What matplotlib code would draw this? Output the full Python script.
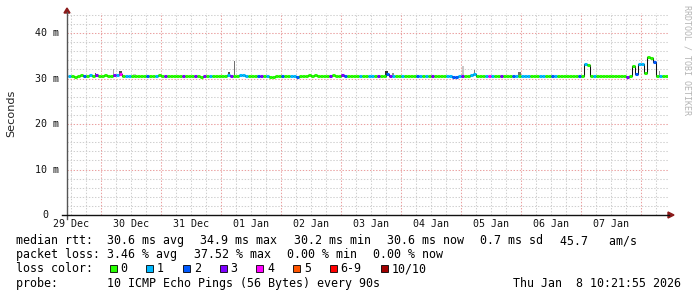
import numpy as np
import matplotlib
matplotlib.use("Agg")
from matplotlib import pyplot as plt
from matplotlib.lines import Line2D
from matplotlib.patches import Polygon, Rectangle

# time axis is in days since 29 Dec 00:00
day_labels = ["29 Dec", "30 Dec", "31 Dec", "01 Jan", "02 Jan",
              "03 Jan", "04 Jan", "05 Jan", "06 Jan", "07 Jan"]
t_start = 0.45
t_step = 0.05

# median rtt per step (ms)
median = [
    30.6, 30.5, 30.3, 30.6, 30.7, 30.6, 30.6, 30.7, 30.6, 30.8, 30.6, 30.6, 30.7, 30.6, 30.6, 30.7, 30.8, 30.9, 30.5, 30.5,
    30.5, 30.6, 30.6, 30.6, 30.5, 30.6, 30.6, 30.5, 30.6, 30.6, 30.7, 30.6, 30.6, 30.5, 30.6, 30.6, 30.5, 30.6, 30.6, 30.6,
    30.5, 30.6, 30.6, 30.6, 30.4, 30.6, 30.5, 30.6, 30.6, 30.6, 30.5, 30.6, 30.6, 30.7, 30.6, 30.6, 30.6, 30.7, 30.7, 30.6,
    30.6, 30.6, 30.5, 30.6, 30.6, 30.6, 30.5, 30.4, 30.4, 30.5, 30.5, 30.6, 30.6, 30.6, 30.5, 30.5, 30.4, 30.5, 30.5, 30.6,
    30.7, 30.6, 30.7, 30.6, 30.6, 30.6, 30.6, 30.6, 30.7, 30.6, 30.6, 30.7, 30.6, 30.6, 30.6, 30.6, 30.6, 30.5, 30.5, 30.6,
    30.5, 30.5, 30.6, 30.6, 30.6, 30.6, 30.9, 30.5, 30.5, 30.6, 30.6, 30.6, 30.6, 30.6, 30.5, 30.6, 30.5, 30.5, 30.6, 30.6,
    30.6, 30.6, 30.6, 30.6, 30.6, 30.6, 30.5, 30.5, 30.4, 30.4, 30.5, 30.5, 30.6, 30.6, 30.7, 30.9, 30.6, 30.6, 30.6, 30.5,
    30.5, 30.6, 30.6, 30.6, 30.5, 30.6, 30.6, 30.6, 30.5, 30.6, 30.6, 30.6, 30.5, 30.5, 30.5, 30.6, 30.5, 30.5, 30.5, 30.6,
    30.6, 30.5, 30.5, 30.6, 30.6, 30.6, 30.6, 30.6, 30.6, 30.6, 30.5, 30.5, 33.2, 33.0, 30.6, 30.6, 30.6, 30.5, 30.6, 30.6,
    30.6, 30.5, 30.5, 30.6, 30.6, 30.5, 30.4, 30.6, 32.8, 30.9, 33.3, 33.3, 31.2, 34.8, 34.4, 33.6, 30.6, 30.5, 30.6, 30.6,
]

# lost pings (out of 10) per step, as index into loss_names
loss = [
    1, 0, 0, 0, 0, 2, 0, 1, 0, 3, 0, 0, 0, 0, 0, 3, 1, 4, 0, 1,
    1, 0, 0, 0, 0, 0, 2, 0, 0, 1, 0, 0, 3, 0, 0, 0, 0, 0, 3, 0,
    0, 0, 3, 0, 0, 3, 0, 1, 0, 0, 0, 0, 0, 1, 3, 0, 0, 1, 1, 1,
    0, 0, 0, 2, 3, 0, 1, 0, 0, 0, 0, 2, 0, 0, 1, 1, 2, 0, 0, 0,
    0, 0, 0, 0, 0, 0, 0, 3, 0, 0, 0, 3, 2, 0, 0, 0, 0, 1, 0, 0,
    1, 1, 0, 3, 0, 0, 2, 3, 1, 0, 0, 1, 0, 0, 0, 0, 2, 1, 0, 1,
    0, 3, 0, 0, 0, 0, 1, 1, 2, 2, 1, 3, 0, 0, 1, 1, 0, 0, 0, 1,
    4, 1, 0, 0, 3, 0, 0, 0, 2, 1, 0, 1, 1, 1, 0, 0, 0, 1, 1, 0,
    0, 2, 1, 0, 0, 0, 0, 0, 0, 0, 2, 0, 1, 0, 0, 1, 0, 0, 0, 0,
    0, 0, 0, 0, 0, 0, 3, 0, 0, 2, 1, 1, 0, 0, 0, 2, 0, 1, 0, 0,
]
loss_names = ["0", "1", "2", "3", "4", "5", "6-9", "10/10"]
loss_colors = ["#26ff00", "#00b8ff", "#0059ff", "#7e00ff",
               "#ff00ff", "#ff5500", "#ff0000", "#a10000"]

# smoke spikes: time (days) and top (ms)
smoke_t = [0.914, 1.198, 1.331, 1.564, 3.131, 3.231, 5.764, 5.864, 7.031, 7.231, 7.981, 10.31]
smoke_top = [31.3, 32.2, 31.6, 31.1, 31.5, 33.8, 31.6, 31.3, 32.7, 31.9, 31.5, 31.6]
smoke_shade = ["#606060", "#a8a8a8", "#505050", "#c8c8c8", "#505050", "#707070",
               "#303030", "#909090", "#c8c8c8", "#808080", "#707070", "#909090"]
smoke_px = [1, 1, 3, 3, 2, 1, 3, 2, 2, 1, 3, 1]

rtt_items = ["median rtt:", "30.6 ms avg", "34.9 ms max", "30.2 ms min",
             "30.6 ms now", "0.7 ms sd", "45.7   am/s"]
loss_items = ["packet loss:", "3.46 % avg", "37.52 % max", "0.00 % min", "0.00 % now"]
probe = "probe:       10 ICMP Echo Pings (56 Bytes) every 90s"
stamp = "Thu Jan  8 10:21:55 2026"

W, H = 697, 297
mono = "DejaVu Sans Mono"
plt.rcParams["lines.scale_dashes"] = False


def fx(px):
    return px / W


def fy(py):
    return 1 - py / H


fig = plt.figure(figsize=(W / 100, H / 100), dpi=100)
fig.patch.set_facecolor("white")
ax = fig.add_axes([fx(67), fy(215), fx(668) - fx(67), fy(13) - fy(215)])
ax.set_facecolor("white")
xmin, xmax = 0.431, 10.448
ymin, ymax = 0, 44.4
ax.set_xlim(xmin, xmax)
ax.set_ylim(ymin, ymax)
for s in ax.spines.values():
    s.set_visible(False)

# grid
dots = (0, (1.0, 1.2))
for t in np.arange(0.5, xmax, 0.25):
    if abs(t - round(t)) > 1e-6:
        ax.axvline(t, color="#cfcfcf", lw=0.75, ls=dots, zorder=0)
for y in np.arange(2, ymax, 2):
    if y % 10 != 0:
        ax.axhline(y, color="#cfcfcf", lw=0.75, ls=dots, zorder=0)
for t in np.arange(1, 11):
    ax.axvline(t, color="#eaa0a0", lw=0.75, ls=dots, zorder=0.5)
for y in [10, 20, 30, 40]:
    ax.axhline(y, color="#eaa0a0", lw=0.75, ls=dots, zorder=0.5)

# smoke
ax.bar(smoke_t, np.array(smoke_top) - 30.5, bottom=30.5,
       width=np.array(smoke_px) / 60.0, color=smoke_shade, zorder=1)

# median line coloured by loss
edges = t_start + t_step * np.arange(len(median) + 1)
ax.stairs(median, edges, baseline=None, color="#111111", lw=0.75, zorder=2)
ax.hlines(median, edges[:-1], edges[1:], colors=[loss_colors[c] for c in loss],
          lw=2.2, zorder=3)

# ticks
ax.set_xticks([])
ax.set_yticks([])
for i, lab in enumerate(day_labels):
    ax.text(i + 0.5, -0.045, lab, transform=ax.get_xaxis_transform(),
            ha="center", va="center", fontsize=7.2, family=mono, color="#111111")
ytr = matplotlib.transforms.blended_transform_factory(fig.transFigure, ax.transData)
for y in [10, 20, 30, 40]:
    fig.text(fx(59), y, "%d m" % y, transform=ytr, ha="right", va="center",
             fontsize=7.2, family=mono, color="#111111")
fig.text(fx(48), 0, "0", transform=ytr, ha="right", va="center",
         fontsize=7.2, family=mono, color="#111111")

# axes lines and arrows
fig.add_artist(Line2D([fx(67), fx(67)], [fy(219), fy(12)], color="#555555", lw=1))
fig.add_artist(Line2D([fx(62), fx(669)], [fy(215), fy(215)], color="#111111", lw=1))
fig.add_artist(Polygon([[fx(64), fy(13)], [fx(70), fy(13)], [fx(67), fy(8)]],
                       closed=True, color="#8b1a1a"))
fig.add_artist(Polygon([[fx(668), fy(212)], [fx(668), fy(218)], [fx(674), fy(215)]],
                       closed=True, color="#8b1a1a"))

fig.text(fx(11), fy(113), "Seconds", rotation=90, ha="center", va="center",
         fontsize=8.1, family="DejaVu Sans", color="#222222")
fig.text(fx(687), fy(60), "RRDTOOL / TOBI OETIKER", rotation=-90, ha="center",
         va="center", fontsize=6, family=mono, color="#b4b4b4")

# legend text
fs = 8.4
for px, item in zip([16, 107.3, 200.5, 293.8, 387, 480.3, 559.6], rtt_items):
    fig.text(fx(px), fy(244), item, ha="left", va="baseline", fontsize=fs, family=mono)
for px, item in zip([16, 107.3, 193.6, 286.9, 373.2], loss_items):
    fig.text(fx(px), fy(258.3), item, ha="left", va="baseline", fontsize=fs, family=mono)
fig.text(fx(16), fy(272.5), "loss color:", ha="left", va="baseline", fontsize=fs, family=mono)
fig.text(fx(16), fy(286.7), probe, ha="left", va="baseline", fontsize=fs, family=mono)
fig.text(fx(681), fy(286.7), stamp, ha="right", va="baseline", fontsize=fs, family=mono)

box_x = [109.5, 146, 183, 219.5, 256, 293, 329.5, 381]
for bx, name, col in zip(box_x, loss_names, loss_colors):
    fig.add_artist(Rectangle((fx(bx), fy(271.5)), fx(7), 7 / H, facecolor=col,
                             edgecolor="black", lw=0.6))
    fig.text(fx(bx + 11), fy(272.5), name, ha="left", va="baseline", fontsize=fs, family=mono)

fig.savefig("out.png", dpi=100)
